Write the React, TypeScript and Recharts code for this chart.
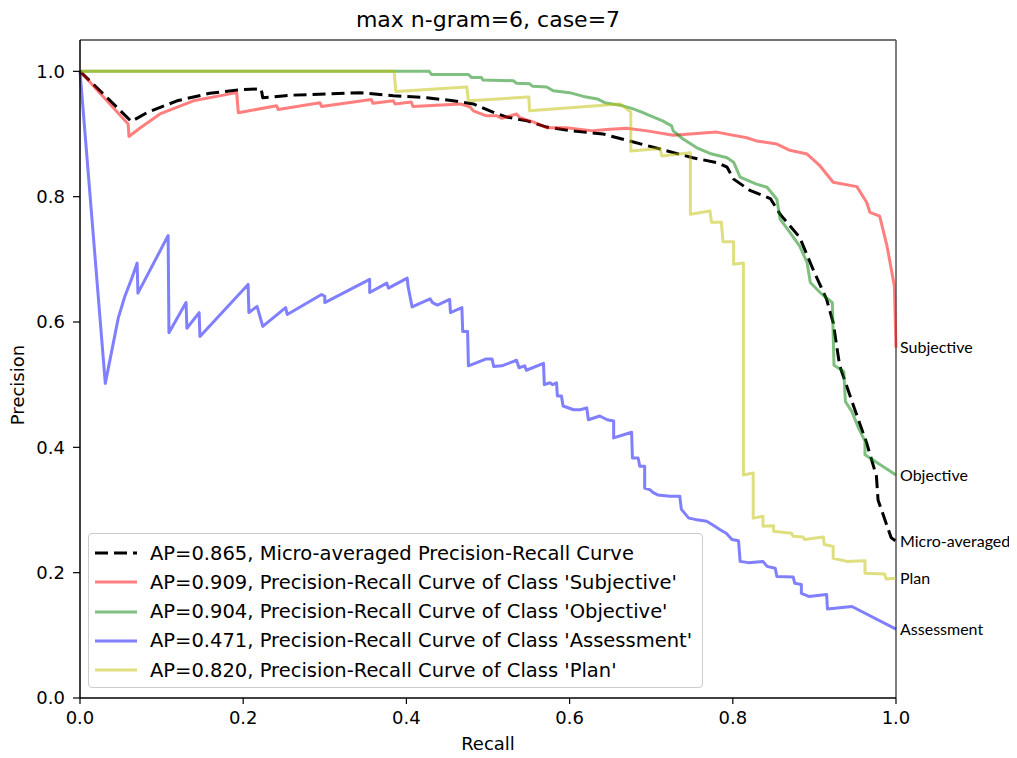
import { LineChart, Line, XAxis, YAxis, ReferenceLine, ReferenceDot } from 'recharts';

// precision-recall curves, one recall/precision pair of arrays per class
const microRecall = [0, 0.063, 0.082, 0.119, 0.159, 0.2, 0.222, 0.224, 0.261, 0.343, 0.384, 0.425, 0.457, 0.482, 0.506, 0.523, 0.548, 0.572, 0.604, 0.641, 0.67, 0.711, 0.751, 0.782, 0.793, 0.801, 0.821, 0.846, 0.858, 0.882, 0.898, 0.915, 0.923, 0.931, 0.948, 0.964, 0.976, 0.978, 0.994, 1.0];
const microPrecision = [1.0, 0.92, 0.934, 0.953, 0.965, 0.971, 0.972, 0.958, 0.962, 0.966, 0.961, 0.958, 0.953, 0.948, 0.935, 0.927, 0.921, 0.911, 0.905, 0.9, 0.89, 0.876, 0.862, 0.854, 0.847, 0.828, 0.81, 0.797, 0.772, 0.735, 0.685, 0.636, 0.599, 0.53, 0.466, 0.407, 0.354, 0.316, 0.256, 0.25];

const subjectiveRecall = [0, 0.059, 0.06, 0.074, 0.098, 0.139, 0.192, 0.194, 0.241, 0.243, 0.294, 0.296, 0.357, 0.359, 0.384, 0.386, 0.406, 0.408, 0.466, 0.478, 0.482, 0.498, 0.511, 0.517, 0.535, 0.539, 0.556, 0.572, 0.596, 0.629, 0.645, 0.67, 0.695, 0.727, 0.78, 0.817, 0.829, 0.854, 0.87, 0.891, 0.907, 0.923, 0.952, 0.964, 0.968, 0.98, 0.989, 0.995, 0.998, 1.0];
const subjectivePrecision = [1.0, 0.916, 0.896, 0.91, 0.932, 0.953, 0.966, 0.934, 0.945, 0.939, 0.95, 0.944, 0.955, 0.949, 0.953, 0.948, 0.951, 0.944, 0.948, 0.943, 0.937, 0.929, 0.929, 0.925, 0.932, 0.926, 0.919, 0.91, 0.91, 0.905, 0.907, 0.909, 0.905, 0.898, 0.903, 0.894, 0.889, 0.884, 0.874, 0.868, 0.849, 0.823, 0.816, 0.791, 0.775, 0.769, 0.721, 0.679, 0.657, 0.559];

const objectiveRecall = [0, 0.428, 0.431, 0.476, 0.48, 0.492, 0.494, 0.531, 0.535, 0.551, 0.555, 0.572, 0.58, 0.6, 0.617, 0.634, 0.643, 0.662, 0.678, 0.69, 0.697, 0.714, 0.725, 0.727, 0.739, 0.756, 0.772, 0.793, 0.801, 0.809, 0.829, 0.842, 0.854, 0.858, 0.87, 0.882, 0.891, 0.895, 0.907, 0.922, 0.924, 0.936, 0.938, 0.946, 0.954, 0.962, 0.962, 1.0];
const objectivePrecision = [1.0, 1.0, 0.995, 0.995, 0.99, 0.99, 0.986, 0.985, 0.981, 0.98, 0.976, 0.975, 0.969, 0.966, 0.96, 0.956, 0.95, 0.946, 0.94, 0.934, 0.93, 0.921, 0.913, 0.905, 0.892, 0.878, 0.869, 0.862, 0.855, 0.831, 0.82, 0.815, 0.796, 0.764, 0.743, 0.721, 0.695, 0.663, 0.647, 0.631, 0.531, 0.521, 0.473, 0.457, 0.431, 0.41, 0.388, 0.356];

const assessmentRecall = [0, 0.031, 0.038, 0.047, 0.055, 0.063, 0.07, 0.071, 0.108, 0.109, 0.13, 0.131, 0.146, 0.147, 0.206, 0.207, 0.217, 0.224, 0.252, 0.254, 0.296, 0.3, 0.3, 0.355, 0.355, 0.376, 0.378, 0.401, 0.402, 0.407, 0.429, 0.432, 0.438, 0.453, 0.454, 0.468, 0.469, 0.475, 0.476, 0.498, 0.505, 0.507, 0.517, 0.535, 0.538, 0.545, 0.547, 0.568, 0.569, 0.576, 0.579, 0.584, 0.585, 0.59, 0.592, 0.605, 0.613, 0.621, 0.623, 0.637, 0.646, 0.654, 0.654, 0.676, 0.677, 0.684, 0.686, 0.692, 0.692, 0.699, 0.702, 0.708, 0.723, 0.735, 0.737, 0.746, 0.754, 0.768, 0.778, 0.784, 0.792, 0.799, 0.807, 0.809, 0.819, 0.837, 0.842, 0.852, 0.854, 0.874, 0.876, 0.884, 0.884, 0.893, 0.915, 0.916, 0.946, 1.0];
const assessmentPrecision = [1.0, 0.502, 0.548, 0.607, 0.641, 0.668, 0.694, 0.646, 0.738, 0.583, 0.631, 0.59, 0.615, 0.577, 0.66, 0.615, 0.625, 0.593, 0.623, 0.612, 0.644, 0.641, 0.631, 0.668, 0.647, 0.662, 0.654, 0.67, 0.657, 0.624, 0.637, 0.631, 0.627, 0.636, 0.615, 0.623, 0.585, 0.585, 0.53, 0.541, 0.541, 0.529, 0.53, 0.539, 0.527, 0.53, 0.523, 0.534, 0.5, 0.503, 0.5, 0.503, 0.482, 0.482, 0.466, 0.46, 0.46, 0.463, 0.444, 0.45, 0.444, 0.442, 0.415, 0.424, 0.383, 0.383, 0.37, 0.37, 0.335, 0.332, 0.328, 0.324, 0.322, 0.322, 0.301, 0.287, 0.285, 0.282, 0.274, 0.269, 0.263, 0.253, 0.251, 0.218, 0.216, 0.218, 0.21, 0.207, 0.194, 0.193, 0.183, 0.181, 0.167, 0.162, 0.165, 0.142, 0.146, 0.11];

const planRecall = [0, 0.385, 0.387, 0.474, 0.476, 0.55, 0.551, 0.662, 0.675, 0.675, 0.711, 0.713, 0.748, 0.748, 0.772, 0.774, 0.786, 0.788, 0.801, 0.801, 0.813, 0.813, 0.825, 0.825, 0.837, 0.837, 0.85, 0.85, 0.872, 0.874, 0.886, 0.888, 0.911, 0.912, 0.923, 0.923, 0.94, 0.962, 0.962, 0.986, 0.988, 1.0];
const planPrecision = [1.0, 1.0, 0.968, 0.975, 0.953, 0.959, 0.937, 0.948, 0.935, 0.873, 0.877, 0.865, 0.87, 0.772, 0.777, 0.759, 0.759, 0.728, 0.728, 0.692, 0.694, 0.356, 0.359, 0.287, 0.29, 0.274, 0.275, 0.266, 0.263, 0.258, 0.257, 0.253, 0.257, 0.245, 0.242, 0.223, 0.218, 0.219, 0.199, 0.198, 0.19, 0.191];

const axisTicks = [0, 0.2, 0.4, 0.6, 0.8, 1.0];

const toPoints = (recall: number[], precision: number[]) =>
  recall.map((r, i) => ({ recall: r, precision: precision[i] }));

const series = [
  { key: 'micro', end: 'Micro-averaged', legend: 'AP=0.865, Micro-averaged Precision-Recall Curve', color: '#000000', opacity: 1, dash: '13 6', data: toPoints(microRecall, microPrecision) },
  { key: 'subjective', end: 'Subjective', legend: "AP=0.909, Precision-Recall Curve of Class 'Subjective'", color: '#ff0000', opacity: 0.5, dash: undefined, data: toPoints(subjectiveRecall, subjectivePrecision) },
  { key: 'objective', end: 'Objective', legend: "AP=0.904, Precision-Recall Curve of Class 'Objective'", color: '#008000', opacity: 0.5, dash: undefined, data: toPoints(objectiveRecall, objectivePrecision) },
  { key: 'assessment', end: 'Assessment', legend: "AP=0.471, Precision-Recall Curve of Class 'Assessment'", color: '#0000ff', opacity: 0.5, dash: undefined, data: toPoints(assessmentRecall, assessmentPrecision) },
  { key: 'plan', end: 'Plan', legend: "AP=0.820, Precision-Recall Curve of Class 'Plan'", color: '#bfbf00', opacity: 0.5, dash: undefined, data: toPoints(planRecall, planPrecision) },
];

const FONT = "'DejaVu Sans', sans-serif";
const tickStyle = { fill: '#000', fontSize: 18, fontFamily: FONT };

const PrLegend = () => (
  <div
    style={{
      position: 'absolute', left: 80, top: 525, width: 615, height: 155,
      border: '1px solid #cccccc', borderRadius: 4, background: 'rgba(255,255,255,0.8)',
      boxSizing: 'border-box', fontFamily: FONT, fontSize: 19.5, color: '#000',
    }}
  >
    {series.map((s, i) => (
      <div key={s.key} style={{ position: 'absolute', left: 0, top: 19 + i * 29.3 - 12, height: 24, display: 'flex', alignItems: 'center', whiteSpace: 'nowrap' }}>
        <svg width={42} height={6} style={{ marginLeft: 6, marginRight: 13 }}>
          <line x1={0} y1={3} x2={42} y2={3} stroke={s.color} strokeOpacity={s.opacity} strokeWidth={3} strokeDasharray={s.dash} />
        </svg>
        <span>{s.legend}</span>
      </div>
    ))}
  </div>
);

export default function App() {
  return (
    <div style={{ position: 'relative', width: 1009, height: 750 }}>
      <div style={{ position: 'absolute', left: 72, top: -1, width: 816, textAlign: 'center', fontFamily: FONT, fontSize: 22, lineHeight: '25px', color: '#000' }}>
        max n-gram=6, case=7
      </div>
      <LineChart width={1009} height={750} margin={{ top: 32, right: 121, bottom: 0, left: 0 }}>
        <XAxis
          type="number"
          dataKey="recall"
          domain={[0, 1]}
          ticks={axisTicks}
          interval={0}
          tickFormatter={(v: number) => v.toFixed(1)}
          height={60}
          tickSize={6}
          tickMargin={7}
          tick={tickStyle}
          axisLine={{ stroke: '#000', strokeWidth: 1.5 }}
          tickLine={{ stroke: '#000', strokeWidth: 1.2 }}
        />
        <YAxis
          type="number"
          dataKey="precision"
          domain={[0, 1.05]}
          ticks={axisTicks}
          interval={0}
          tickFormatter={(v: number) => v.toFixed(1)}
          width={72}
          tickSize={7}
          tickMargin={8}
          tick={tickStyle}
          axisLine={{ stroke: '#000', strokeWidth: 1.5 }}
          tickLine={{ stroke: '#000', strokeWidth: 1.2 }}
        />
        <ReferenceLine y={1.05} stroke="#444" strokeWidth={1.5} />
        <ReferenceLine x={1} stroke="#555" strokeWidth={1.5} />
        {series.map((s) => (
          <Line
            key={s.key}
            data={s.data}
            dataKey="precision"
            type="linear"
            stroke={s.color}
            strokeOpacity={s.opacity}
            strokeWidth={3}
            strokeDasharray={s.dash}
            strokeLinejoin="round"
            dot={false}
            activeDot={false}
            isAnimationActive={false}
          />
        ))}
        {series.map((s) => {
          const last = s.data[s.data.length - 1];
          return (
            <ReferenceDot
              key={`end-${s.key}`}
              x={last.recall}
              y={last.precision}
              r={0}
              fill="none"
              stroke="none"
              label={{ value: s.end, position: 'right', offset: 4, fill: '#000', fontSize: 16, fontFamily: 'Lato, sans-serif' }}
            />
          );
        })}
      </LineChart>
      <div style={{ position: 'absolute', left: 72, top: 725, width: 816, textAlign: 'center', fontFamily: FONT, fontSize: 18, lineHeight: '22px', color: '#000' }}>
        Recall
      </div>
      <div style={{ position: 'absolute', left: 10, top: 377, transform: 'translate(-50%, -50%) rotate(-90deg)', fontFamily: FONT, fontSize: 18, lineHeight: '22px', color: '#000', whiteSpace: 'nowrap' }}>
        Precision
      </div>
      <PrLegend />
    </div>
  );
}
